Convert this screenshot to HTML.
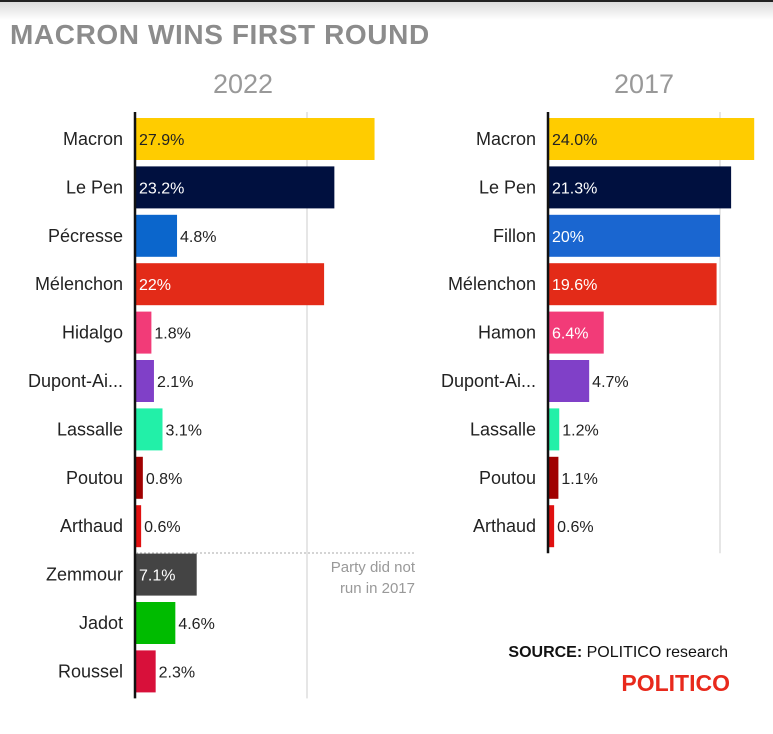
<!DOCTYPE html>
<html><head><meta charset="utf-8"><style>
body{margin:0;width:773px;height:729px;background:#fff;overflow:hidden;font-family:"Liberation Sans",sans-serif}
</style></head><body>
<svg id="c" width="773" height="729" xmlns="http://www.w3.org/2000/svg">
<defs><linearGradient id="g" x1="0" y1="0" x2="0" y2="1"><stop offset="0" stop-color="#d8d8d8"/><stop offset="1" stop-color="#fff"/></linearGradient></defs>
<rect x="0" y="0" width="773" height="20" fill="url(#g)"/>
<rect x="0" y="0" width="773" height="2" fill="#222"/>
<text x="10" y="44" font-size="28" font-weight="bold" fill="#8c8c8c" letter-spacing="0.6">MACRON WINS FIRST ROUND</text>
<text x="243" y="93" font-size="27" fill="#999" text-anchor="middle">2022</text>
<text x="644" y="93" font-size="27" fill="#999" text-anchor="middle">2017</text>
<g id="left"></g><g id="right"></g>
<line x1="136" y1="553" x2="415" y2="553" stroke="#aaa" stroke-dasharray="2,2"/>
<text x="415" y="572" font-size="15" fill="#999" text-anchor="end">Party did not</text>
<text x="415" y="593" font-size="15" fill="#999" text-anchor="end">run in 2017</text>
<text x="728" y="657" font-size="16" fill="#111" text-anchor="end"><tspan font-weight="bold">SOURCE:</tspan> POLITICO research</text>
<text x="730" y="691" font-size="23" font-weight="bold" fill="#e8291c" text-anchor="end">POLITICO</text>
</svg>
<script>
const cats22=["Macron","Le Pen","Pécresse","Mélenchon","Hidalgo","Dupont-Ai...","Lassalle","Poutou","Arthaud","Zemmour","Jadot","Roussel"];
const vals22=[27.9,23.2,4.8,22,1.8,2.1,3.1,0.8,0.6,7.1,4.6,2.3];
const labels22=["27.9%","23.2%","4.8%","22%","1.8%","2.1%","3.1%","0.8%","0.6%","7.1%","4.6%","2.3%"];
const colors22=["#ffcc00","#00103f","#0b66cc","#e32b18","#f23b78","#8040c8","#22f0a8","#a00000","#e01010","#444444","#00bb00","#d8103a"];
const cats17=["Macron","Le Pen","Fillon","Mélenchon","Hamon","Dupont-Ai...","Lassalle","Poutou","Arthaud"];
const vals17=[24.0,21.3,20,19.6,6.4,4.7,1.2,1.1,0.6];
const labels17=["24.0%","21.3%","20%","19.6%","6.4%","4.7%","1.2%","1.1%","0.6%"];
const colors17=["#ffcc00","#00103f","#1a66d0","#e32b18","#f23b78","#8040c8","#22f0a8","#a00000","#e01010"];
const NS="http://www.w3.org/2000/svg";
function mk(p,t,a){const e=document.createElementNS(NS,t);for(const k in a)e.setAttribute(k,a[k]);p.appendChild(e);return e;}
function draw(g,x0,cats,vals,labels,colors,key){
  const sx=v=>x0+1+v*8.55, rowY=i=>118+i*48.4;
  const gl=mk(g,"line",{x1:sx(20),x2:sx(20),y1:112,y2:rowY(cats.length-1)+48,stroke:"#ddd","stroke-width":1.5});
  
  
  cats.forEach((c,i)=>{
    const y=rowY(i);
    const r=mk(g,"rect",{x:x0+1,y:y,width:sx(vals[i])-x0-1,height:42,fill:colors[i]});
    
    
    const t=mk(g,"text",{x:x0-12,y:y+27,"font-size":18,fill:"#222","text-anchor":"end"});t.textContent=c;
    
    
    const inside=vals[i]>5;
    const v=mk(g,"text",{x:inside?x0+4:sx(vals[i])+3,y:y+27,"font-size":16,fill:inside?(i==0?"#222":"#fff"):"#222"});v.textContent=labels[i];
    
    
  });
  const ax=mk(g,"line",{x1:x0,x2:x0,y1:112,y2:rowY(cats.length-1)+48,stroke:"#111","stroke-width":2.5});
  
  
}
draw(document.getElementById("left"),135,cats22,vals22,labels22,colors22,"2022");
draw(document.getElementById("right"),548,cats17,vals17,labels17,colors17,"2017");
</script>
</body></html>
